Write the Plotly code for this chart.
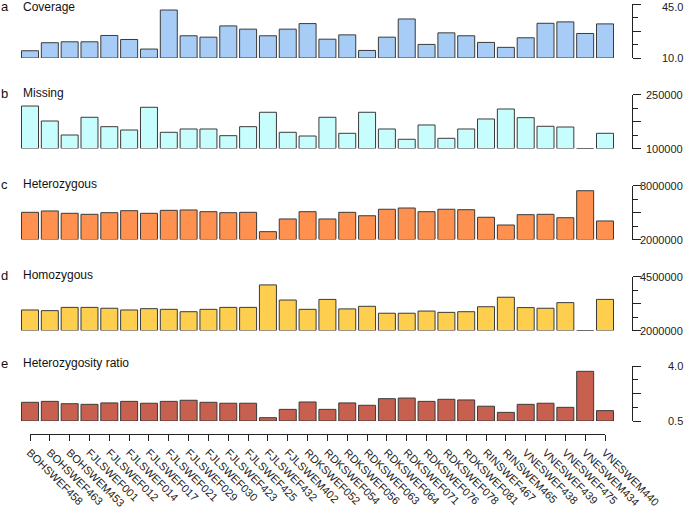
import plotly.graph_objects as go

samples = ["BOHSWEF458", "BOHSWEF463", "BOHSWEM453", "FJLSWEF001", "FJLSWEF012",
           "FJLSWEF014", "FJLSWEF017", "FJLSWEF021", "FJLSWEF029", "FJLSWEF030",
           "FJLSWEF423", "FJLSWEF425", "FJLSWEF432", "FJLSWEM402", "RDKSWEF052",
           "RDKSWEF054", "RDKSWEF056", "RDKSWEF063", "RDKSWEF064", "RDKSWEF071",
           "RDKSWEF076", "RDKSWEF078", "RDKSWEF081", "RINSWEF467", "RINSWEM465",
           "VNESWEF438", "VNESWEF439", "VNESWEF475", "VNESWEM434", "VNESWEM440"]

coverage = [14.7, 19.9, 20.5, 20.5, 24.6, 22.0, 15.8, 41.1, 24.4, 23.5,
            30.8, 28.7, 24.4, 28.7, 32.3, 22.2, 25.0, 14.9, 23.5, 35.3,
            18.8, 26.3, 24.4, 20.1, 16.9, 23.1, 32.5, 33.4, 25.9, 32.1]
missing = [218000, 176400, 137500, 186700, 160600, 151400, 214500, 145000, 154200, 154200,
           135600, 160600, 200600, 145000, 134700, 186700, 142200, 200600, 154200, 125600,
           165300, 128300, 154200, 182000, 209700, 185600, 161700, 159700, 100000, 142200]
heterozygous = [5.02e6, 5.17e6, 4.91e6, 4.80e6, 4.98e6, 5.20e6, 4.91e6, 5.24e6, 5.28e6, 5.09e6,
                4.98e6, 5.02e6, 2.87e6, 4.28e6, 5.09e6, 4.28e6, 5.02e6, 4.64e6, 5.36e6, 5.50e6,
                5.09e6, 5.36e6, 5.31e6, 4.47e6, 3.61e6, 4.76e6, 4.80e6, 4.42e6, 7.42e6, 4.06e6]
homozygous = [2.95e6, 2.92e6, 3.07e6, 3.07e6, 3.03e6, 2.95e6, 3.01e6, 2.98e6, 2.87e6, 2.98e6,
              3.07e6, 3.07e6, 4.11e6, 3.41e6, 2.98e6, 3.44e6, 3.00e6, 3.12e6, 2.80e6, 2.80e6,
              2.90e6, 2.84e6, 2.87e6, 3.10e6, 3.54e6, 3.06e6, 3.03e6, 3.29e6, 2.00e6, 3.44e6]
het_ratio = [1.69, 1.75, 1.60, 1.56, 1.65, 1.75, 1.63, 1.75, 1.82, 1.69,
             1.63, 1.63, 0.71, 1.24, 1.71, 1.24, 1.65, 1.50, 1.92, 1.96,
             1.75, 1.88, 1.84, 1.44, 1.05, 1.56, 1.63, 1.37, 3.66, 1.16]

panel_letters = ["a", "b", "c", "d", "e"]
panel_titles = ["Coverage", "Missing", "Heterozygous", "Homozygous", "Heterozygosity ratio"]
axis_ranges = [(10.0, 45.0), (100000, 250000), (2000000, 8000000), (2000000, 4500000), (0.5, 4.0)]
axis_labels = [("10.0", "45.0"), ("100000", "250000"), ("2000000", "8000000"),
               ("2000000", "4500000"), ("0.5", "4.0")]
series = [coverage, missing, heterozygous, homozygous, het_ratio]
colors = ["#a7cdf7", "#c8fdfd", "#fe9150", "#fecf4f", "#c8604f"]

W, H = 685, 508
panel_px = [(4, 58), (94.5, 148.5), (185.5, 239.5), (276.5, 330.5), (366, 421)]
title_px = [7, 93, 184, 275, 363]


def yp(px):
    return 1 - px / H


def xp(px):
    return px / W


# category spacing in px: first centre 30, last centre 605
s = (605 - 30) / (len(samples) - 1)
axis_x_px = 632
x_range = [-30 / s, (axis_x_px - 30) / s]

fig = go.Figure()
layout = dict(width=W, height=H, margin=dict(l=0, r=0, t=0, b=0, pad=0, autoexpand=False),
              paper_bgcolor="white", plot_bgcolor="rgba(0,0,0,0)",
              showlegend=False, bargap=0.143,
              font=dict(family="Liberation Sans, Arial, sans-serif", color="#222222"))
annotations = []

for k in range(5):
    lo, hi = axis_ranges[k]
    vals = series[k]
    xa = "x" if k == 0 else f"x{k+1}"
    ya = "y" if k == 0 else f"y{k+1}"
    fig.add_trace(go.Bar(
        x=samples, y=[v - lo for v in vals], base=[lo] * len(vals),
        marker=dict(color=colors[k], line=dict(color="#3a3a3a", width=1)),
        xaxis=xa, yaxis=ya, hoverinfo="skip"))
    top, bot = panel_px[k]
    xname = "xaxis" if k == 0 else f"xaxis{k+1}"
    yname = "yaxis" if k == 0 else f"yaxis{k+1}"
    layout[xname] = dict(domain=[0, xp(axis_x_px)], range=x_range, type="category",
                         categoryorder="array", categoryarray=samples, automargin=False,
                         visible=False, anchor=ya, fixedrange=True)
    q = (hi - lo) / 4
    layout[yname] = dict(domain=[yp(bot), yp(top)], range=[lo, hi], side="right",
                         anchor=xa, showline=True, linecolor="#222222", linewidth=1,
                         ticks="outside", ticklen=8, tickwidth=1, tickcolor="#222222",
                         tickvals=[lo, lo + 2 * q, hi], showticklabels=False,
                         minor=dict(tickvals=[lo + q, lo + 3 * q], ticks="outside",
                                    ticklen=5, tickwidth=1, tickcolor="#222222"),
                         showgrid=False, zeroline=False, fixedrange=True, automargin=False)
    # panel letter and title
    annotations.append(dict(text=panel_letters[k], xref="paper", yref="paper",
                            x=0, y=yp(title_px[k]), xanchor="left", yanchor="middle",
                            showarrow=False, xshift=-1, font=dict(size=13, color="#111111")))
    annotations.append(dict(text=panel_titles[k], xref="paper", yref="paper",
                            x=xp(21), y=yp(title_px[k]), xanchor="left", yanchor="middle",
                            showarrow=False, font=dict(size=12, color="#111111")))
    # end labels of right axis
    for val, lab in zip((lo, hi), axis_labels[k]):
        shift = -3 if (k == 0 and val == hi) else 0
        annotations.append(dict(text=lab, xref="paper", yref=ya, x=1, y=val,
                                xanchor="right", yanchor="middle", showarrow=False,
                                yshift=shift, font=dict(size=11, color="#222222")))

# sample axis along the bottom
fig.add_trace(go.Scatter(x=samples, y=[None] * len(samples), xaxis="x6", yaxis="y6",
                         mode="markers", hoverinfo="skip"))
layout["xaxis6"] = dict(domain=[xp(30), xp(605)], range=[0, len(samples) - 1],
                        type="category", categoryorder="array", categoryarray=samples,
                        anchor="y6", showline=True, linecolor="#222222", linewidth=1,
                        ticks="outside", ticklen=6, tickwidth=1, tickcolor="#222222",
                        tickangle=45, tickfont=dict(size=11, color="#222222"),
                        ticklabelstandoff=1,
                        showgrid=False, zeroline=False, fixedrange=True, automargin=False)
layout["yaxis6"] = dict(domain=[yp(434), yp(426)], range=[0, 1], visible=False,
                        anchor="x6", fixedrange=True, automargin=False)
layout["annotations"] = annotations

fig.update_layout(**layout)
fig.write_html("out.html", config={"displayModeBar": False, "staticPlot": True},
               post_script="document.body.style.margin='0';document.body.style.overflow='hidden';")
